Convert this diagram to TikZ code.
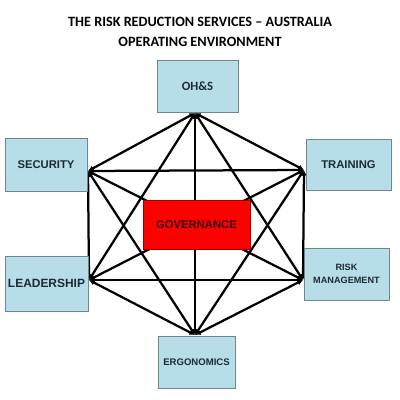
\documentclass[tikz,border=0pt]{standalone}
\usepackage{fontspec}
\setmainfont{Liberation Sans}
\newfontfamily\titlefont{Carlito}
\usetikzlibrary{arrows.meta, backgrounds}
\definecolor{boxfill}{HTML}{B7DDE8}
\definecolor{boxline}{HTML}{6F8590}
\definecolor{boxtext}{HTML}{1C2A33}
\newlength{\px}
\setlength{\px}{0.025cm}
\tikzstyle{areabox} = [rectangle,
draw=boxline, fill=boxfill,
line width=0.6pt,
text=boxtext,
align=center,
inner sep=0pt]
\tikzstyle{govbox} = [rectangle,
draw=red!60!black, fill=red,
line width=0.6pt,
text=black!80!red,
font=\bfseries\fontsize{8}{9}\selectfont,
minimum width=107\px, minimum height=49\px]
\tikzstyle{link} = [line width=1.6pt, {Latex[length=4pt,width=4pt]}-{Latex[length=4pt,width=4pt]}]

\begin{document}
\begin{tikzpicture}[x=0.025cm, y=-0.025cm]
		\useasboundingbox (0,0) rectangle (400,400);
		\node (title1) [font=\titlefont\bfseries\fontsize{10.1}{12}\selectfont] at (200,22) {THE RISK REDUCTION SERVICES – AUSTRALIA};
		\node (title2) [font=\titlefont\bfseries\fontsize{10.1}{12}\selectfont] at (200,42) {OPERATING ENVIRONMENT};
		
		\node (ohs) [areabox, minimum width=81\px, minimum height=52\px, font=\titlefont\bfseries\fontsize{9}{10}\selectfont] at (197.5,86) {OH\&S};
		\node (sec) [areabox, minimum width=82\px, minimum height=53\px, font=\bfseries\fontsize{8}{9}\selectfont] at (46,164.5) {SECURITY};
		\node (trn) [areabox, minimum width=85\px, minimum height=51\px, font=\bfseries\fontsize{8}{9}\selectfont] at (348.5,165) {TRAINING};
		\node (gov) [govbox] at (196.5,224.5) {GOVERNANCE};
		\node (lead) [areabox, minimum width=83\px, minimum height=55\px, font=\bfseries\fontsize{8.5}{9}\selectfont] at (46.5,283.5) {LEADERSHIP};
		\node (risk) [areabox, minimum width=85\px, minimum height=52\px, font=\bfseries\fontsize{6.5}{9}\selectfont] at (346.5,274) {RISK\\MANAGEMENT};
		\node (ergo) [areabox, minimum width=77\px, minimum height=52\px, font=\bfseries\fontsize{6.8}{8}\selectfont] at (196.5,362) {ERGONOMICS};
		
		% hub points on the box edges
		\coordinate (pO) at (195,113);
		\coordinate (pS) at (88,171);
		\coordinate (pT) at (304,170);
		\coordinate (pL) at (89,280);
		\coordinate (pR) at (303,280);
		\coordinate (pE) at (195,335);
		
		\begin{scope}[on background layer]
		\draw [link](pO) -- (pS);
		\draw [link](pO) -- (pT);
		\draw [link](pO) -- (pL);
		\draw [link](pO) -- (pR);
		\draw [link](pO) -- (pE);
		\draw [link](pS) -- (pT);
		\draw [link](pS) -- (pL);
		\draw [link](pS) -- (pR);
		\draw [link](pS) -- (pE);
		\draw [link](pT) -- (pL);
		\draw [link](pT) -- (pR);
		\draw [link](pT) -- (pE);
		\draw [link](pL) -- (pR);
		\draw [link](pL) -- (pE);
		\draw [link](pR) -- (pE);
		\end{scope}
	\end{tikzpicture}
\end{document}
